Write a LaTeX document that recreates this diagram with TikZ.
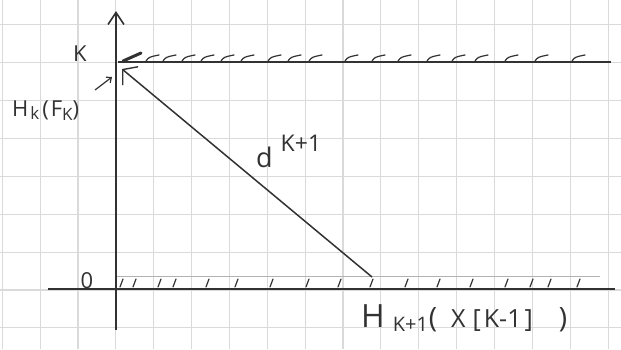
\documentclass[tikz,border=0pt]{standalone}
\usepackage{fontspec}
\setmainfont{Open Sans}
\usetikzlibrary{arrows.meta}
\definecolor{ink}{RGB}{50,50,50}
\definecolor{gridc}{RGB}{218,218,218}
\newcommand{\fsz}[1]{\fontsize{#1}{#1}\selectfont}
\tikzset{
  gridline/.style={draw=gridc, line width=1.1pt},
  axisline/.style={draw=ink, line width=1.8pt},
  mainline/.style={draw=ink, line width=1.5pt},
  hatch/.style={draw=ink, line width=1.2pt, line cap=round},
  lbl/.style={text=ink, inner sep=0pt, font=\fsz{22}},
}
\begin{document}
\begin{tikzpicture}[x=1pt,y=-1pt]
\useasboundingbox (0,0) rectangle (621,349);
\fill[white] (0,0) rectangle (621,349);
% grid
\foreach \k in {0,...,16} {\draw[gridline] ({2.3+37.86*\k},0) -- ({2.3+37.86*\k},349);}
\foreach \j in {0,...,8} {\draw[gridline] (0,{24.7+37.9*\j}) -- (621,{24.7+37.9*\j});}
% axis
\coordinate (ybot) at (116,330);
\coordinate (ytop) at (116,11);
\draw[axisline, -{Straight Barb[length=12pt,width=16pt,line width=1.6pt]}] (ybot) -- (ytop);
% K level line
\coordinate (kL) at (118,62);
\coordinate (kR) at (611,62);
\draw[mainline] (kL) -- (kR);
\draw[draw=ink, line width=3pt, line cap=round] (123,61) -- (141,53);
\foreach \x in {146,163,182,201,221,241,268,288,309,345,372,398,427,452,475,505,535,572}
  {\draw[hatch] (\x,61) .. controls (\x+3,57) .. (\x+13,55);}
% 0 level line
\coordinate (zL) at (48,289);
\coordinate (zR) at (615,289);
\draw[mainline] (zL) -- (zR);
\draw[draw=gray!60, line width=0.8pt] (117,276) -- (600,276);
\foreach \x in {120,133,158,173,206,235,270,306,338,370,405,437,470,505,530,548,577}
  {\draw[hatch] (\x,287) -- (\x+3,279);}
% diagonal
\coordinate (dA) at (372,277);
\coordinate (dB) at (122,69);
\draw[mainline, -{Straight Barb[length=10pt,width=24pt,line width=1.4pt]}] (dA) -- (dB);
% labels
\node[lbl] (lK) at (80,54) {K};
\node[lbl] (lZ) at (87,281) {0};
\node[lbl, anchor=west] (lH) at (12,111) {H\hspace{2pt}\raisebox{-3pt}{\fsz{17}k}\hspace{3pt}(\hspace{2pt}F\raisebox{-4pt}{\fsz{17}K})};
\coordinate (hArrow) at (112,77);
\draw[draw=ink, line width=1.2pt, -{Straight Barb[length=4pt,width=7pt]}] (95,90) -- (hArrow);
\node[lbl, anchor=base west] (ld) at (256,167) {\fsz{27}d\hspace{8pt}\raisebox{16pt}{\fsz{23}K+1}};
\node[lbl, anchor=base west] (lX) at (361,327) {\fsz{32}H\hspace{8pt}\raisebox{-4pt}{\fsz{20}K+1}\hspace{1pt}{\fsz{28}(}\hspace{14pt}{\fsz{25}X\hspace{7pt}[\hspace{3pt}K-1\hspace{3pt}]}\hspace{26pt}{\fsz{28})}};
\end{tikzpicture}
\end{document}
